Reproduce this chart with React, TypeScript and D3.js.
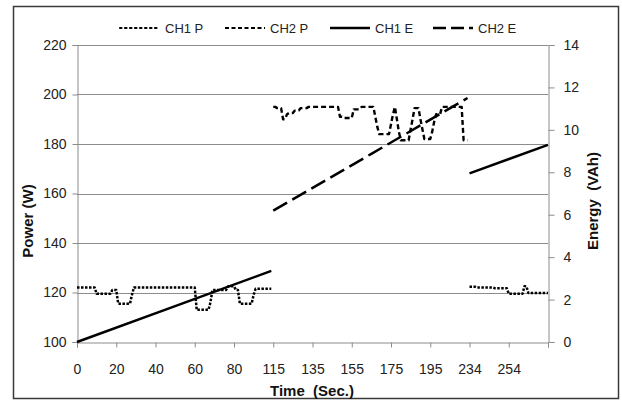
import React, { useRef, useEffect } from 'react';
import * as d3 from 'd3';

// category labels shown every 20 samples on the time axis
const timeLabels = ['0', '20', '40', '60', '80', '115', '135', '155', '175', '195', '234', '254'];
const labelStep = 20;
const lastSample = 240;

const powerTicks = [100, 120, 140, 160, 180, 200, 220];
const energyTicks = [0, 2, 4, 6, 8, 10, 12, 14];

// [sample index, watts] break points
const ch1PowerA = [
  [0, 122], [9, 122], [10, 119.5], [17, 119.5], [18, 121], [20, 121], [21, 115.5], [27, 115.5],
  [28, 119], [29, 122], [60, 122], [61, 113], [67, 113], [68, 116], [69, 121], [76, 121],
  [77, 122.5], [80, 122.5], [81, 121], [82, 121], [83, 115.5], [89, 115.5], [90, 119],
  [91, 121.5], [99, 121.5],
];
const ch2Power = [
  [100, 195], [101, 195], [102, 194.5], [104, 194.5], [105, 190], [106, 190], [107, 192],
  [108, 192.5], [110, 192.5], [111, 193.5], [113, 193.5], [114, 194.5], [117, 194.5],
  [118, 195], [133, 195], [134, 191], [135, 191], [136, 190.5], [140, 190.5], [141, 194],
  [144, 194], [145, 195], [151, 195], [152, 191], [153, 187], [154, 184], [159, 184],
  [160, 188], [161, 192], [162, 195], [163, 190], [164, 185], [165, 181.5], [169, 181.5],
  [170, 186], [171, 190], [172, 194.5], [174, 194.5], [175, 190], [176, 186], [177, 182],
  [180, 182], [181, 185], [182, 189], [183, 192], [185, 192], [186, 195], [196, 195],
  [197, 181.5], [199, 181.5],
];
const ch1PowerB = [
  [200, 122.3], [203, 122.3], [204, 122], [212, 122], [213, 121.7], [219, 121.7],
  [220, 119.5], [227, 119.5], [228, 122.5], [229, 122.5], [230, 119.8], [240, 119.8],
];

// [sample index, VAh]
const ch1EnergyA = [[0, 0], [50, 1.69], [99, 3.35]];
const ch2Energy = [[100, 6.19], [150, 8.87], [199, 11.5]];
const ch1EnergyB = [[200, 7.95], [240, 9.29]];

const legendItems = [
  { name: 'CH1 P', dash: '1.5,3.5', width: 2.2, cap: 'round' },
  { name: 'CH2 P', dash: '4,2.5', width: 2.2, cap: 'butt' },
  { name: 'CH1 E', dash: null, width: 2.5, cap: 'butt' },
  { name: 'CH2 E', dash: '13,5', width: 2.5, cap: 'butt' },
];

const FONT = "'Liberation Sans', Arial, sans-serif";

export default function App() {
  const ref = useRef(null);

  useEffect(() => {
    const svg = d3.select(ref.current);
    svg.selectAll('*').remove();

    const left = 77, right = 548, top = 45, bottom = 342;

    const x = d3.scaleLinear().domain([0, lastSample]).range([left, right]);
    const yP = d3.scaleLinear().domain([100, 220]).range([bottom, top]);
    const yE = d3.scaleLinear().domain([0, 14]).range([bottom, top]);

    // outer frame
    svg.append('rect')
      .attr('x', 13.5).attr('y', 6.5).attr('width', 605).attr('height', 392)
      .attr('fill', 'white').attr('stroke', '#3a3a3a').attr('stroke-width', 1.5);

    // gridlines
    svg.append('g').selectAll('line')
      .data(powerTicks.slice(1))
      .join('line')
      .attr('x1', left).attr('x2', right)
      .attr('y1', (d) => Math.round(yP(d)) + 0.5).attr('y2', (d) => Math.round(yP(d)) + 0.5)
      .attr('stroke', '#8c8c8c');

    // left axis
    const gl = svg.append('g').attr('transform', `translate(${left + 0.5},0)`)
      .call(d3.axisLeft(yP).tickValues(powerTicks).tickSize(5).tickPadding(6));
    // right axis
    const gr = svg.append('g').attr('transform', `translate(${right + 0.5},0)`)
      .call(d3.axisRight(yE).tickValues(energyTicks).tickSize(6).tickPadding(9));
    // bottom axis
    const tickIdx = d3.range(0, lastSample + 1, labelStep);
    const gb = svg.append('g').attr('transform', `translate(0,${bottom + 0.5})`)
      .call(d3.axisBottom(x).tickValues(tickIdx).tickSize(5).tickPadding(17)
        .tickFormat((d) => timeLabels[d / labelStep] ?? ''));

    [gl, gr, gb].forEach((g) => {
      g.select('.domain').attr('stroke', '#8c8c8c');
      g.selectAll('.tick line').attr('stroke', '#8c8c8c');
      g.selectAll('.tick text').attr('fill', '#222').style('font-family', FONT).style('font-size', '14px');
    });

    // axis titles
    svg.append('text')
      .attr('transform', `translate(33,221) rotate(-90)`)
      .attr('text-anchor', 'middle').style('font-family', FONT).style('font-size', '15px')
      .style('font-weight', 'bold').attr('fill', '#111').text('Power (W)');
    svg.append('text')
      .attr('transform', `translate(598,201) rotate(-90)`)
      .attr('text-anchor', 'middle').style('font-family', FONT).style('font-size', '15px')
      .style('font-weight', 'bold').style('white-space', 'pre').attr('fill', '#111').text('Energy  (VAh)');
    svg.append('text')
      .attr('x', 312).attr('y', 396)
      .attr('text-anchor', 'middle').style('font-family', FONT).style('font-size', '15px')
      .style('font-weight', 'bold').style('white-space', 'pre').attr('fill', '#111').text('Time  (Sec.)');

    const lineP = d3.line().x((d) => x(d[0])).y((d) => yP(d[1]));
    const lineE = d3.line().x((d) => x(d[0])).y((d) => yE(d[1]));

    const draw = (data, gen, item) => {
      const p = svg.append('path').datum(data)
        .attr('d', gen).attr('fill', 'none').attr('stroke', '#000')
        .attr('stroke-width', item.width).attr('stroke-linecap', item.cap)
        .attr('stroke-linejoin', 'round');
      if (item.dash) p.attr('stroke-dasharray', item.dash);
    };

    draw(ch1PowerA, lineP, { width: 2.5, dash: '2.5,1.5', cap: 'butt' });
    draw(ch1PowerB, lineP, { width: 2.5, dash: '2.5,1.5', cap: 'butt' });
    draw(ch2Power, lineP, { width: 2.4, dash: '5,3', cap: 'butt' });
    draw(ch1EnergyA, lineE, legendItems[2]);
    draw(ch1EnergyB, lineE, legendItems[2]);
    draw(ch2Energy, lineE, { width: 2.5, dash: '16,6', cap: 'butt' });

    // legend
    const legendX = [120, 225, 330, 433];
    const lg = svg.append('g');
    legendItems.forEach((it, i) => {
      const l = lg.append('line')
        .attr('x1', legendX[i]).attr('x2', legendX[i] + 40)
        .attr('y1', 28).attr('y2', 28)
        .attr('stroke', '#000').attr('stroke-width', it.width)
        .attr('stroke-linecap', it.cap);
      if (it.dash) l.attr('stroke-dasharray', it.dash);
      lg.append('text')
        .attr('x', legendX[i] + 45).attr('y', 33)
        .style('font-family', FONT).style('font-size', '13px')
        .attr('fill', '#222').text(it.name);
    });
  }, []);

  return (
    <svg
      ref={ref}
      width={622}
      height={401}
      style={{ position: 'absolute', left: 0, top: 0, background: 'white' }}
    />
  );
}
